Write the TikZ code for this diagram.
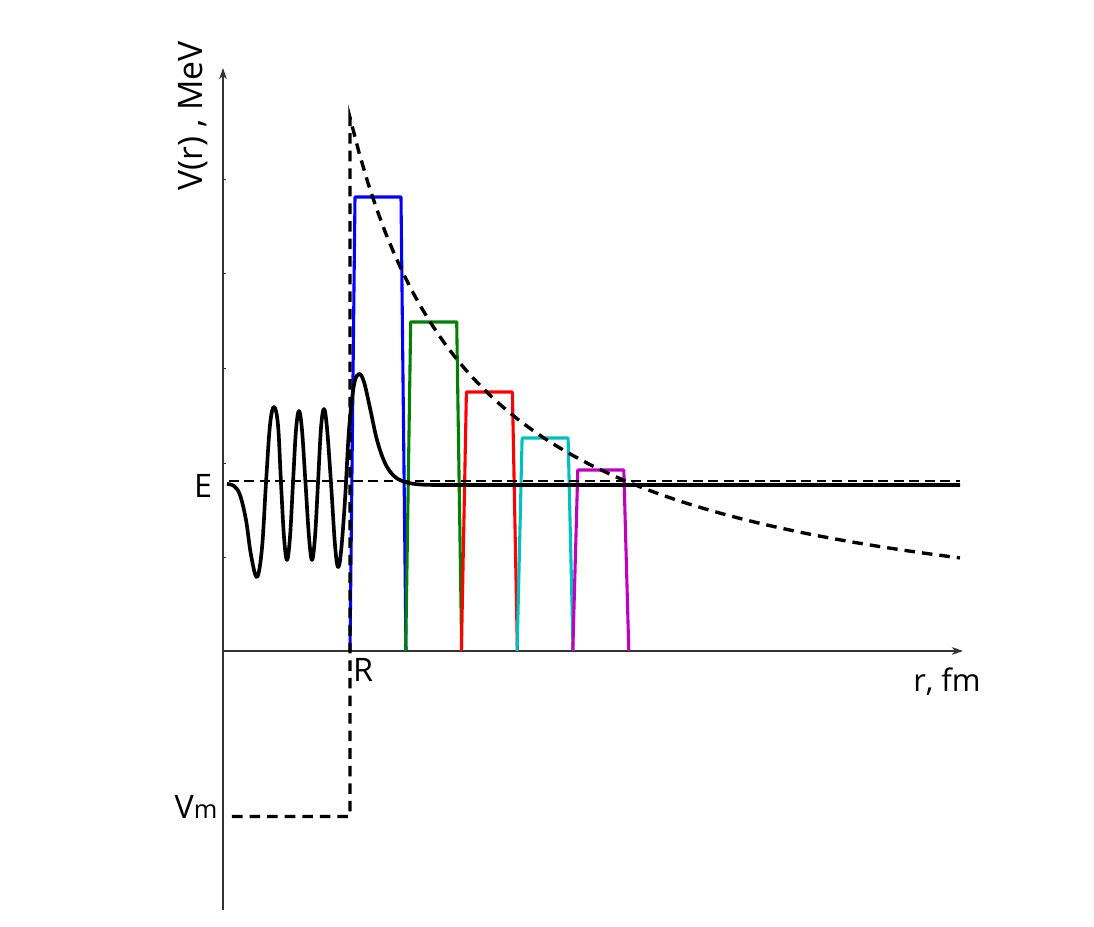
\documentclass[tikz,border=0pt]{standalone}
\usepackage{fontspec}
\setmainfont{Open Sans}
\usetikzlibrary{positioning,arrows.meta}
\definecolor{mgreen}{rgb}{0,0.5,0}
\definecolor{mcyan}{rgb}{0,0.75,0.75}
\definecolor{mmag}{rgb}{0.75,0,0.75}

\begin{document}
\begin{tikzpicture}[
  x=2.5cm, y=2.5cm,
  every node/.style={inner sep=0pt},
  lab/.style={font=\fontsize{23}{26}\selectfont},
  axis/.style={draw=black!80, line width=1.4pt, -{Stealth[length=8pt,width=5.5pt]}},
  wave/.style={line width=2.6pt, line join=round},
  coul/.style={line width=2.4pt, dash pattern=on 7.5pt off 5pt},
  level/.style={line width=0.8pt, dash pattern=on 7pt off 4pt},
  barrier/.style={line width=2.2pt, line join=round}
]
\useasboundingbox (-2.23,-2.76) rectangle (8.71,6.51);

% axes
\coordinate (O) at (0,0);
\coordinate (xend) at (7.40,0);
\coordinate (ybot) at (0,-2.59);
\coordinate (ytop) at (0,5.83);
\draw[axis] (O) -- (xend);
\draw[axis] (ybot) -- (ytop);
\foreach \t in {0.94,1.88,2.83,3.78,4.72}
  \draw[black!80, line width=0.6pt] (0,\t) -- ++(0.03,0);

% barriers
\foreach \i/\col/\h in {0/blue/4.54, 1/mgreen/3.29, 2/red/2.59, 3/mcyan/2.13, 4/mmag/1.81}
  \draw[barrier, \col] ({1.27+0.557*\i},0) -- ++(0.05,\h) -- ++(0.46,0) -- ++(0.05,-\h);

% energy level
\coordinate (Ea) at (0.06,1.70);
\coordinate (Eb) at (7.37,1.70);
\draw[level] (Ea) -- (Eb);

% wave function
\draw[wave] plot[smooth, tension=0.6] coordinates {
  (0.04,1.67) (0.11,1.65) (0.17,1.56) (0.23,1.31) (0.28,0.96) (0.34,0.74)
  (0.39,1.03) (0.43,1.68) (0.47,2.26) (0.51,2.44) (0.55,2.26) (0.58,1.68)
  (0.61,1.14) (0.64,0.91) (0.67,1.14) (0.70,1.68) (0.73,2.21) (0.76,2.40)
  (0.79,2.21) (0.825,1.68) (0.86,1.14) (0.89,0.91) (0.92,1.14) (0.95,1.68)
  (0.98,2.23) (1.01,2.42) (1.04,2.23) (1.08,1.68) (1.12,1.06) (1.15,0.84)
  (1.18,0.99) (1.22,1.51) (1.26,2.21) (1.31,2.66) (1.36,2.77) (1.41,2.69)
  (1.47,2.43) (1.54,2.11) (1.62,1.88) (1.71,1.75) (1.82,1.69) (1.97,1.665)
  (2.17,1.66)} -- (7.37,1.66);

% potential
\coordinate (Vl) at (0.09,-1.655);
\coordinate (Vr) at (1.27,-1.655);
\draw[coul] (Vl) -- (Vr) -- (1.27,5.33)
  -- plot[domain=1.27:7.37, samples=70] (\x,{6.88/(\x+0.02)});

% labels
\node[rotate=90, anchor=base, font=\fontsize{24}{26}\selectfont] (ylab) at (-0.20,5.35) {V(r) , MeV};
\node[lab, anchor=base] (Elab) at (-0.20,1.53) {E};
\node[lab, anchor=base] (Rlab) at (1.40,-0.31) {R};
\node[anchor=base] (Vmlab) at (-0.27,-1.68) {\fontsize{23}{26}\selectfont V\fontsize{18}{20}\selectfont m};
\node[anchor=base, font=\fontsize{22}{24}\selectfont] (xlab) at (7.24,-0.41) {r, fm};
\end{tikzpicture}
\end{document}
